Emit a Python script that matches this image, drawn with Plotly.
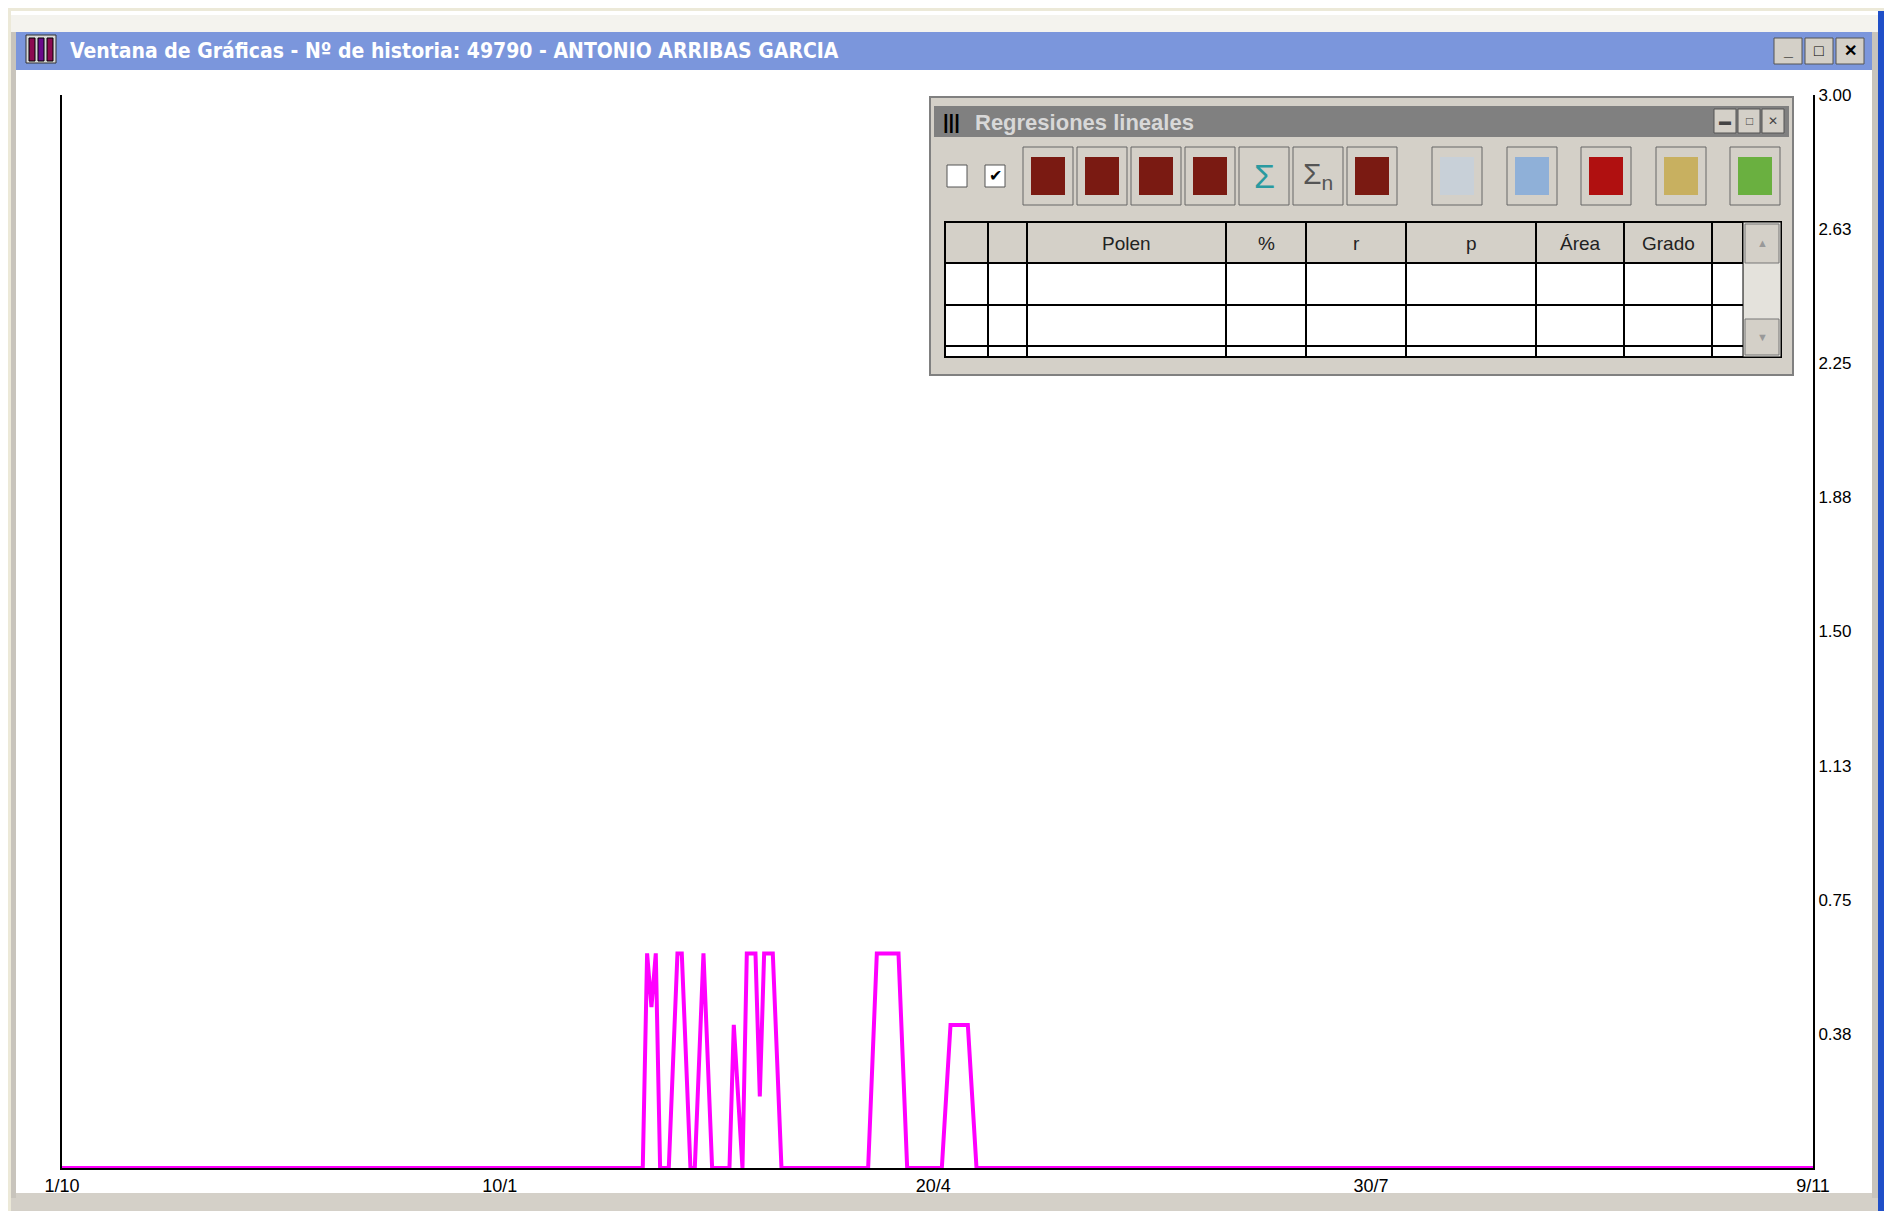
import plotly.graph_objects as go

# ---- data ----
x_tick_days = [0, 101, 201, 302, 404]
x_tick_labels = ["1/10", "10/1", "20/4", "30/7", "9/11"]
y_tick_vals = [0.375, 0.75, 1.125, 1.5, 1.875, 2.25, 2.625, 3.0]
y_tick_labels = ["0.38", "0.75", "1.13", "1.50", "1.88", "2.25", "2.63", "3.00"]
nonzero_days = [135, 136, 137, 141, 142, 143, 144, 147, 148, 149, 155, 156, 158, 159, 160, 161, 162, 163, 164, 165,
                187, 188, 189, 190, 191, 192, 193, 194, 204, 205, 206, 207, 208, 209, 210]
nonzero_vals = [0.6, 0.45, 0.6, 0.3, 0.6, 0.6, 0.3, 0.3, 0.6, 0.3, 0.4, 0.2, 0.6, 0.6, 0.6, 0.2, 0.6, 0.6, 0.6, 0.3,
                0.3, 0.6, 0.6, 0.6, 0.6, 0.6, 0.6, 0.3, 0.2, 0.4, 0.4, 0.4, 0.4, 0.4, 0.2]
table_headers = ["", "", "Polen", "%", "r", "p", "Área", "Grado", ""]
title_text = "Ventana de Gráficas - Nº de historia: 49790 - ANTONIO ARRIBAS GARCIA"
sub_title = "Regresiones lineales"

days = list(range(0, 405))
lookup = dict(zip(nonzero_days, nonzero_vals))
vals = [lookup.get(d, 0.0) for d in days]

W, H = 1892, 1211
L, R, T, B = 54, 1805, 87, 1160
DX, DY = -7, -7

def px(x):
    return (x + DX - L) / (R - L)

def py(y):
    return (B - (y + DY)) / (B - T)

shapes = []
ann = []

def rect(x0, y0, x1, y1, fill, line=None, lw=0, layer="above"):
    shapes.append(dict(type="rect", xref="paper", yref="paper", x0=px(x0), x1=px(x1), y0=py(y1), y1=py(y0),
                       fillcolor=fill, line=dict(color=line or fill, width=lw), layer=layer))

def hline(x0, x1, y, color="black", w=2):
    shapes.append(dict(type="line", xref="paper", yref="paper", x0=px(x0), x1=px(x1), y0=py(y), y1=py(y),
                       line=dict(color=color, width=w)))

def vline(x, y0, y1, color="black", w=2):
    shapes.append(dict(type="line", xref="paper", yref="paper", x0=px(x), x1=px(x), y0=py(y0), y1=py(y1),
                       line=dict(color=color, width=w)))

def text(x, y, s, size=17, color="black", anchor="left", bold=False, family="Liberation Sans"):
    ann.append(dict(xref="paper", yref="paper", x=px(x), y=py(y), text=f"<b>{s}</b>" if bold else s,
                    showarrow=False, xanchor=anchor, yanchor="middle",
                    font=dict(size=size, color=color, family=family)))

# ---- window chrome ----
rect(-20, -20, W + 10, 10, "#ECE9D8", layer="below")
rect(-20, 10, 10, H + 10, "#ECE9D8", layer="below")
rect(10, 14, 1877, 31, "#F4F3EE", layer="below")
rect(15, 31, 1873, 69, "#7B96DC", layer="below")
rect(1877, 10, W + 10, H + 10, "#1F4FC8", layer="below")
rect(10, 1192, 1877, H + 10, "#D4D0C8", layer="below")
rect(10, 31, 15, 1197, "#C8C4BC", layer="below")
rect(1871, 31, 1877, 1197, "#C8C4BC", layer="below")
# title icon
rect(25, 34, 55, 62, "#D8D8D8", line="#333", lw=1)
for i, c in enumerate(["#8B0A50", "#6A0A8B", "#8B0A50"]):
    rect(28 + i * 9, 37, 34 + i * 9, 60, c, line="black", lw=1)
text(67, 50, title_text, size=21, color="white", bold=True, family="DejaVu Sans Condensed")
for i, sym in enumerate(["_", "□", "✕"]):
    bx = 1773 + i * 31
    rect(bx, 37, bx + 28, 63, "#D4D0C8", line="#555", lw=1)
    text(bx + 14, 50, sym, size=16, anchor="center", bold=True)

# ---- Regresiones lineales floating window ----
rect(929, 96, 1792, 374, "#D4D0C8", line="#808080", lw=2)
rect(933, 105, 1788, 136, "#808080")
text(940, 121, "|||", size=20, color="black", bold=True)
text(972, 121, sub_title, size=22, color="#D8D8D8", bold=True)
for i, sym in enumerate(["▬", "□", "✕"]):
    bx = 1713 + i * 24
    rect(bx, 108, bx + 22, 132, "#D4D0C8", line="#555", lw=1)
    text(bx + 11, 120, sym, size=12, anchor="center", color="#444")
rect(946, 164, 966, 186, "white", line="#555", lw=1)
rect(984, 164, 1004, 186, "white", line="#555", lw=1)
text(994, 175, "✔", size=16, anchor="center")
btn_x = [1047, 1101, 1155, 1209, 1263, 1317, 1371, 1456, 1531, 1605, 1680, 1754]
btn_fill = ["#7A1A12", "#7A1A12", "#7A1A12", "#7A1A12", None, None, "#7A1A12", "#C8D0D8", "#8FB0D8", "#B01010",
            "#C8B060", "#6AB040"]
for bx, f in zip(btn_x, btn_fill):
    rect(bx - 25, 146, bx + 25, 204, "#D4D0C8", line="#666", lw=1)
    if f:
        rect(bx - 17, 156, bx + 17, 194, f)
text(btn_x[4], 175, "Σ", size=34, anchor="center", color="#2A9AA0")
text(btn_x[5], 175, "Σ<sub>n</sub>", size=30, anchor="center", color="#555")
rect(944, 221, 1780, 356, "white", line="black", lw=2)
rect(944, 221, 1742, 262, "#D4D0C8", line="black", lw=2)
col_x = [944, 987, 1026, 1225, 1305, 1405, 1535, 1623, 1711, 1742]
for cx in col_x[1:-1]:
    vline(cx, 221, 356)
for ry in [262, 304, 345]:
    hline(944, 1742, ry)
for i, h in enumerate(table_headers):
    if h:
        text((col_x[i] + col_x[i + 1]) / 2, 242, h, size=19, anchor="center", color="#222")
rect(1742, 221, 1780, 356, "#E4E2DC", line="black", lw=1)
rect(1744, 223, 1778, 262, "#D4D0C8", line="#777", lw=1)
text(1761, 242, "▲", size=11, anchor="center", color="#999")
rect(1744, 318, 1778, 354, "#D4D0C8", line="#777", lw=1)
text(1761, 336, "▼", size=11, anchor="center", color="#999")

fig = go.Figure(go.Scatter(x=days, y=vals, mode="lines", line=dict(color="#FF00FF", width=4), hoverinfo="skip"))
fig.update_layout(
    width=W, height=H, margin=dict(l=L, r=W - R, t=T, b=H - B),
    paper_bgcolor="white", plot_bgcolor="white", showlegend=False,
    shapes=shapes, annotations=ann,
    font=dict(family="Liberation Sans", size=17, color="black"),
    xaxis=dict(range=[0, 404], tickvals=x_tick_days, ticktext=x_tick_labels, showgrid=False, zeroline=False,
               showline=True, linecolor="black", linewidth=2, ticks="", tickfont=dict(size=18)),
    yaxis=dict(range=[0, 3.0], tickvals=y_tick_vals, ticktext=y_tick_labels, side="right", showgrid=False,
               zeroline=False, showline=True, mirror=True, linecolor="black", linewidth=2, ticks="",
               tickfont=dict(size=17)),
)
fig.write_html("out.html")
